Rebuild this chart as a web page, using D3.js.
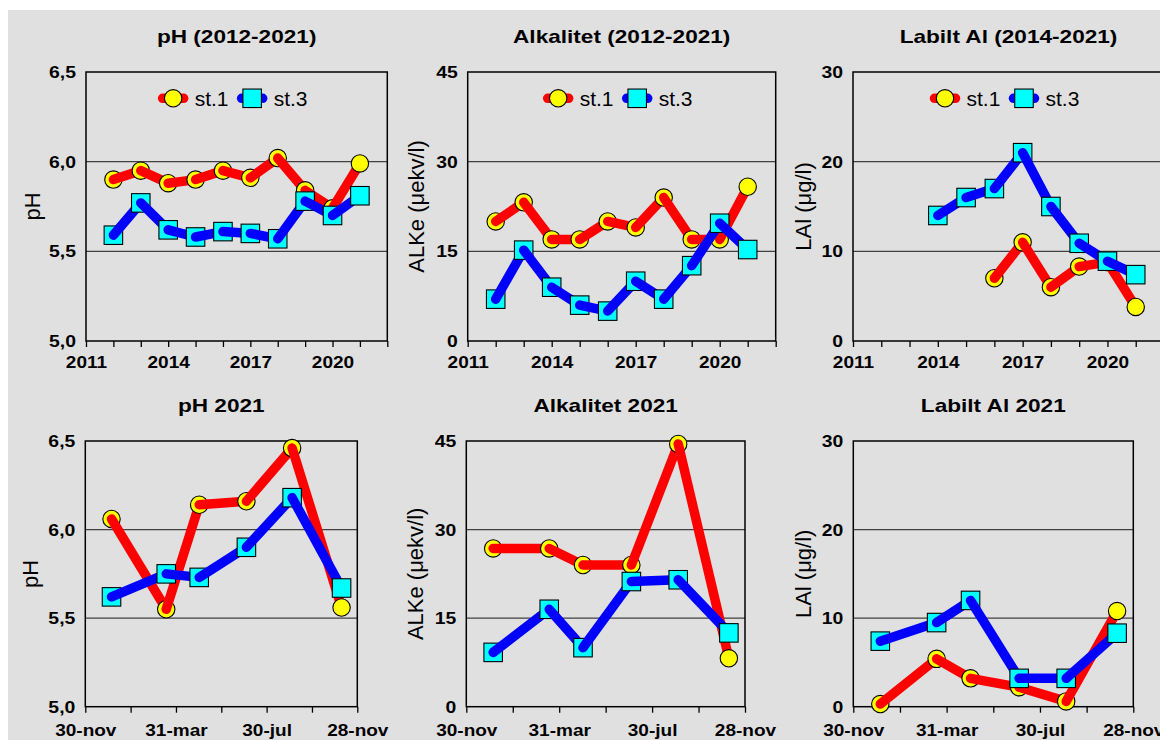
<!DOCTYPE html>
<html>
<head>
<meta charset="utf-8">
<script src="https://cdn.jsdelivr.net/npm/d3@7"></script>
<style>
  html, body { margin: 0; padding: 0; background: #ffffff; }
  svg { display: block; }
</style>
</head>
<body>
<svg id="chart" width="1160" height="740"></svg>
<script>
// ---- Annual means 2012-2021 ----
const years = [2012, 2013, 2014, 2015, 2016, 2017, 2018, 2019, 2020, 2021];
const phSt1 = [5.90, 5.95, 5.88, 5.90, 5.95, 5.91, 6.02, 5.84, 5.74, 5.99];
const phSt3 = [5.59, 5.77, 5.62, 5.58, 5.61, 5.60, 5.57, 5.78, 5.70, 5.81];
const alkSt1 = [20.0, 23.2, 17.0, 17.0, 20.0, 19.0, 24.0, 17.0, 17.0, 25.8];
const alkSt3 = [7.0, 15.2, 9.0, 6.0, 5.0, 10.0, 7.0, 12.6, 19.7, 15.3];
const lalYearsSt1 = [2016, 2017, 2018, 2019, 2020, 2021];
const lalSt1 = [7.0, 11.0, 6.0, 8.3, 8.8, 3.8];
const lalYearsSt3 = [2014, 2015, 2016, 2017, 2018, 2019, 2020, 2021];
const lalSt3 = [14.0, 16.0, 17.0, 21.0, 15.0, 10.9, 8.9, 7.4];

// ---- Samples 2021 ----
const sampleDates = ["2021-01-04", "2021-03-18", "2021-05-01", "2021-07-03", "2021-09-02", "2021-11-07"];
const ph2021St1 = [6.06, 5.55, 6.14, 6.16, 6.46, 5.56];
const ph2021St3 = [5.62, 5.75, 5.73, 5.90, 6.18, 5.67];
const alk2021St1 = [26.8, 26.8, 24.0, 24.0, 44.5, 8.2];
const alk2021St3 = [9.2, 16.5, 10.0, 21.2, 21.5, 12.5];
const lal2021St1 = [0.3, 5.4, 3.2, 2.2, 0.6, 10.8];
const lal2021St3 = [7.4, 9.5, 12.0, 3.2, 3.2, 8.3];

// ---- Axis ticks ----
const yearTicks = d3.range(2011, 2023);
const yearTickLabels = ["2011", "2014", "2017", "2020"];
const dateRange = ["2020-11-30", "2021-11-28"];
const dateTickLabels = ["30-nov", "31-mar", "30-jul", "28-nov"];
const phTicks = [5.0, 5.5, 6.0, 6.5];
const phTickLabels = ["5,0", "5,5", "6,0", "6,5"];
const alkTicks = [0, 15, 30, 45];
const alkTickLabels = ["0", "15", "30", "45"];
const lalTicks = [0, 10, 20, 30];
const lalTickLabels = ["0", "10", "20", "30"];
const stationNames = ["st.1", "st.3"];

// ---- Styling ----
const FONT = "'Liberation Sans', Arial, Helvetica, sans-serif";
const BG = "#e0e0e0";
const LINE_W = 9.5;
const CIRCLE_R = 8.7;
const SQUARE = 18.5;
const styles = [
  { line: "#ff0000", fill: "#ffff00", shape: "circle" },
  { line: "#0000ff", fill: "#00ffff", shape: "square" }
];

const svg = d3.select("#chart");
svg.append("rect").attr("x", 0).attr("y", 0).attr("width", 1160).attr("height", 740).attr("fill", "#ffffff");
svg.append("rect").attr("x", 8).attr("y", 10).attr("width", 1152).attr("height", 730).attr("fill", BG);

const parseDay = d3.utcParse("%Y-%m-%d");
const dStart = parseDay(dateRange[0]);
const dEnd = parseDay(dateRange[1]);
const DAY = 86400000;
const spanDays = (dEnd - dStart) / DAY;
const dateTicks = d3.range(7).map(i => new Date(dStart.getTime() + i * spanDays / 6 * DAY));

function stretchedText(g, x, y, text, size, weight, sx, anchor) {
  return g.append("text")
    .attr("transform", `translate(${x},${y}) scale(${sx},1)`)
    .attr("text-anchor", anchor || "middle")
    .attr("font-family", FONT)
    .attr("font-size", size)
    .attr("font-weight", weight)
    .attr("fill", "#000")
    .text(text);
}

function drawMarker(g, shape, fill, cx, cy) {
  if (shape === "circle") {
    g.append("circle").attr("cx", cx).attr("cy", cy).attr("r", CIRCLE_R)
      .attr("fill", fill).attr("stroke", "#000").attr("stroke-width", 1.1);
  } else {
    g.append("rect").attr("x", cx - SQUARE / 2).attr("y", cy - SQUARE / 2)
      .attr("width", SQUARE).attr("height", SQUARE)
      .attr("fill", fill).attr("stroke", "#000").attr("stroke-width", 1.1);
  }
}

const segLine = d3.line();

function drawSeries(g, pts, st) {
  // each marker is followed by the segment leaving it
  pts.forEach((p, i) => {
    drawMarker(g, st.shape, st.fill, p[0], p[1]);
    if (i < pts.length - 1) {
      g.append("path").attr("d", segLine([p, pts[i + 1]]))
        .attr("fill", "none").attr("stroke", st.line)
        .attr("stroke-width", LINE_W).attr("stroke-linecap", "round");
    }
  });
}

function drawPanel(cfg) {
  const g = svg.append("g");
  const { left, right, top, bottom } = cfg;
  const y = d3.scaleLinear().domain([cfg.yTicks[0], cfg.yTicks[cfg.yTicks.length - 1]]).range([bottom, top]);
  let x, xTicks, xFmt;
  if (cfg.xType === "year") {
    x = d3.scaleLinear().domain([2011, 2022]).range([left, right]);
    xTicks = yearTicks;
    xFmt = d => { const s = String(d); return yearTickLabels.includes(s) ? s : ""; };
  } else {
    x = d3.scaleUtc().domain([dStart, dEnd]).range([left, right]);
    xTicks = dateTicks;
    xFmt = (d, i) => (i % 2 === 0 ? dateTickLabels[i / 2] : "");
  }

  // horizontal gridlines
  g.selectAll("line.grid").data(cfg.yTicks.slice(1, -1)).join("line")
    .attr("class", "grid")
    .attr("x1", left).attr("x2", right)
    .attr("y1", d => y(d)).attr("y2", d => y(d))
    .attr("stroke", "#404040").attr("stroke-width", 1.3);

  // plot frame
  g.append("rect").attr("x", left).attr("y", top)
    .attr("width", right - left).attr("height", bottom - top)
    .attr("fill", "none").attr("stroke", "#000").attr("stroke-width", 1.5);

  // x axis
  const xa = g.append("g").attr("transform", `translate(0,${bottom})`)
    .call(d3.axisBottom(x).tickValues(xTicks).tickSize(6).tickSizeOuter(0).tickFormat(xFmt));
  xa.select(".domain").remove();
  xa.selectAll(".tick line").attr("stroke", "#000").attr("stroke-width", 1.3);
  xa.selectAll(".tick text")
    .attr("y", cfg.xLabelDy).attr("dy", null)
    .attr("font-family", FONT).attr("font-size", 17).attr("font-weight", "bold")
    .attr("fill", "#000").attr("transform", "scale(1.12,1)");

  // y axis
  const ya = g.append("g").attr("transform", `translate(${left},0)`)
    .call(d3.axisLeft(y).tickValues(cfg.yTicks).tickSize(0).tickPadding(8.8)
      .tickFormat((d, i) => cfg.yLabels[i]));
  ya.select(".domain").remove();
  ya.selectAll(".tick text")
    .attr("font-family", FONT).attr("font-size", 17).attr("font-weight", "bold")
    .attr("fill", "#000").attr("transform", "scale(1.14,1)");

  // titles
  const cx = (left + Math.min(right, 1160 + 4)) / 2;
  stretchedText(g, cx, top - 29, cfg.title, 19, "bold", 1.19);
  g.append("text")
    .attr("transform", `translate(${cfg.yTitleX},${(top + bottom) / 2}) rotate(-90)`)
    .attr("text-anchor", "middle")
    .attr("font-family", FONT).attr("font-size", 22).attr("fill", "#000")
    .text(cfg.yTitle);

  // data
  cfg.series.forEach((s, k) => {
    const pts = s.xs.map((xv, i) => [x(cfg.xType === "year" ? xv : parseDay(xv)), y(s.ys[i])]);
    drawSeries(g, pts, styles[k]);
  });

  // legend
  if (cfg.legend) {
    const lc = (left + right) / 2 - 63.5;
    const ly = top + 26.3;
    stationNames.forEach((name, k) => {
      const c = lc + k * 79;
      const st = styles[k];
      g.append("line").attr("x1", c - 10.5).attr("x2", c + 10.5)
        .attr("y1", ly).attr("y2", ly)
        .attr("stroke", st.line).attr("stroke-width", LINE_W).attr("stroke-linecap", "round");
      drawMarker(g, st.shape, st.fill, c, ly);
      g.append("text").attr("x", c + 21.5).attr("y", ly + 8)
        .attr("font-family", FONT).attr("font-size", 21).attr("fill", "#000")
        .text(name);
    });
  }
}

const panels = [
  { left: 86, right: 387.3, top: 72, bottom: 341, xType: "year", xLabelDy: 27, legend: true,
    title: "pH (2012-2021)", yTitle: "pH", yTitleX: 39.5,
    yTicks: phTicks, yLabels: phTickLabels,
    series: [{ xs: years, ys: phSt1 }, { xs: years, ys: phSt3 }] },
  { left: 467.7, right: 775.7, top: 72, bottom: 341, xType: "year", xLabelDy: 27, legend: true,
    title: "Alkalitet (2012-2021)", yTitle: "ALKe (μekv/l)", yTitleX: 423.5,
    yTicks: alkTicks, yLabels: alkTickLabels,
    series: [{ xs: years, ys: alkSt1 }, { xs: years, ys: alkSt3 }] },
  { left: 853, right: 1164, top: 72, bottom: 341, xType: "year", xLabelDy: 27, legend: true,
    title: "Labilt Al (2014-2021)", yTitle: "LAl (μg/l)", yTitleX: 810.7,
    yTicks: lalTicks, yLabels: lalTickLabels,
    series: [{ xs: lalYearsSt1, ys: lalSt1 }, { xs: lalYearsSt3, ys: lalSt3 }] },
  { left: 85.3, right: 357.3, top: 441, bottom: 706.7, xType: "date", xLabelDy: 29, legend: false,
    title: "pH 2021", yTitle: "pH", yTitleX: 38,
    yTicks: phTicks, yLabels: phTickLabels,
    series: [{ xs: sampleDates, ys: ph2021St1 }, { xs: sampleDates, ys: ph2021St3 }] },
  { left: 466.3, right: 745, top: 441, bottom: 706.7, xType: "date", xLabelDy: 29, legend: false,
    title: "Alkalitet 2021", yTitle: "ALKe (μekv/l)", yTitleX: 422.7,
    yTicks: alkTicks, yLabels: alkTickLabels,
    series: [{ xs: sampleDates, ys: alk2021St1 }, { xs: sampleDates, ys: alk2021St3 }] },
  { left: 853.3, right: 1133.3, top: 441, bottom: 706.7, xType: "date", xLabelDy: 29, legend: false,
    title: "Labilt Al 2021", yTitle: "LAl (μg/l)", yTitleX: 810.7,
    yTicks: lalTicks, yLabels: lalTickLabels,
    series: [{ xs: sampleDates, ys: lal2021St1 }, { xs: sampleDates, ys: lal2021St3 }] }
];

panels.forEach(drawPanel);
</script>
</body>
</html>
